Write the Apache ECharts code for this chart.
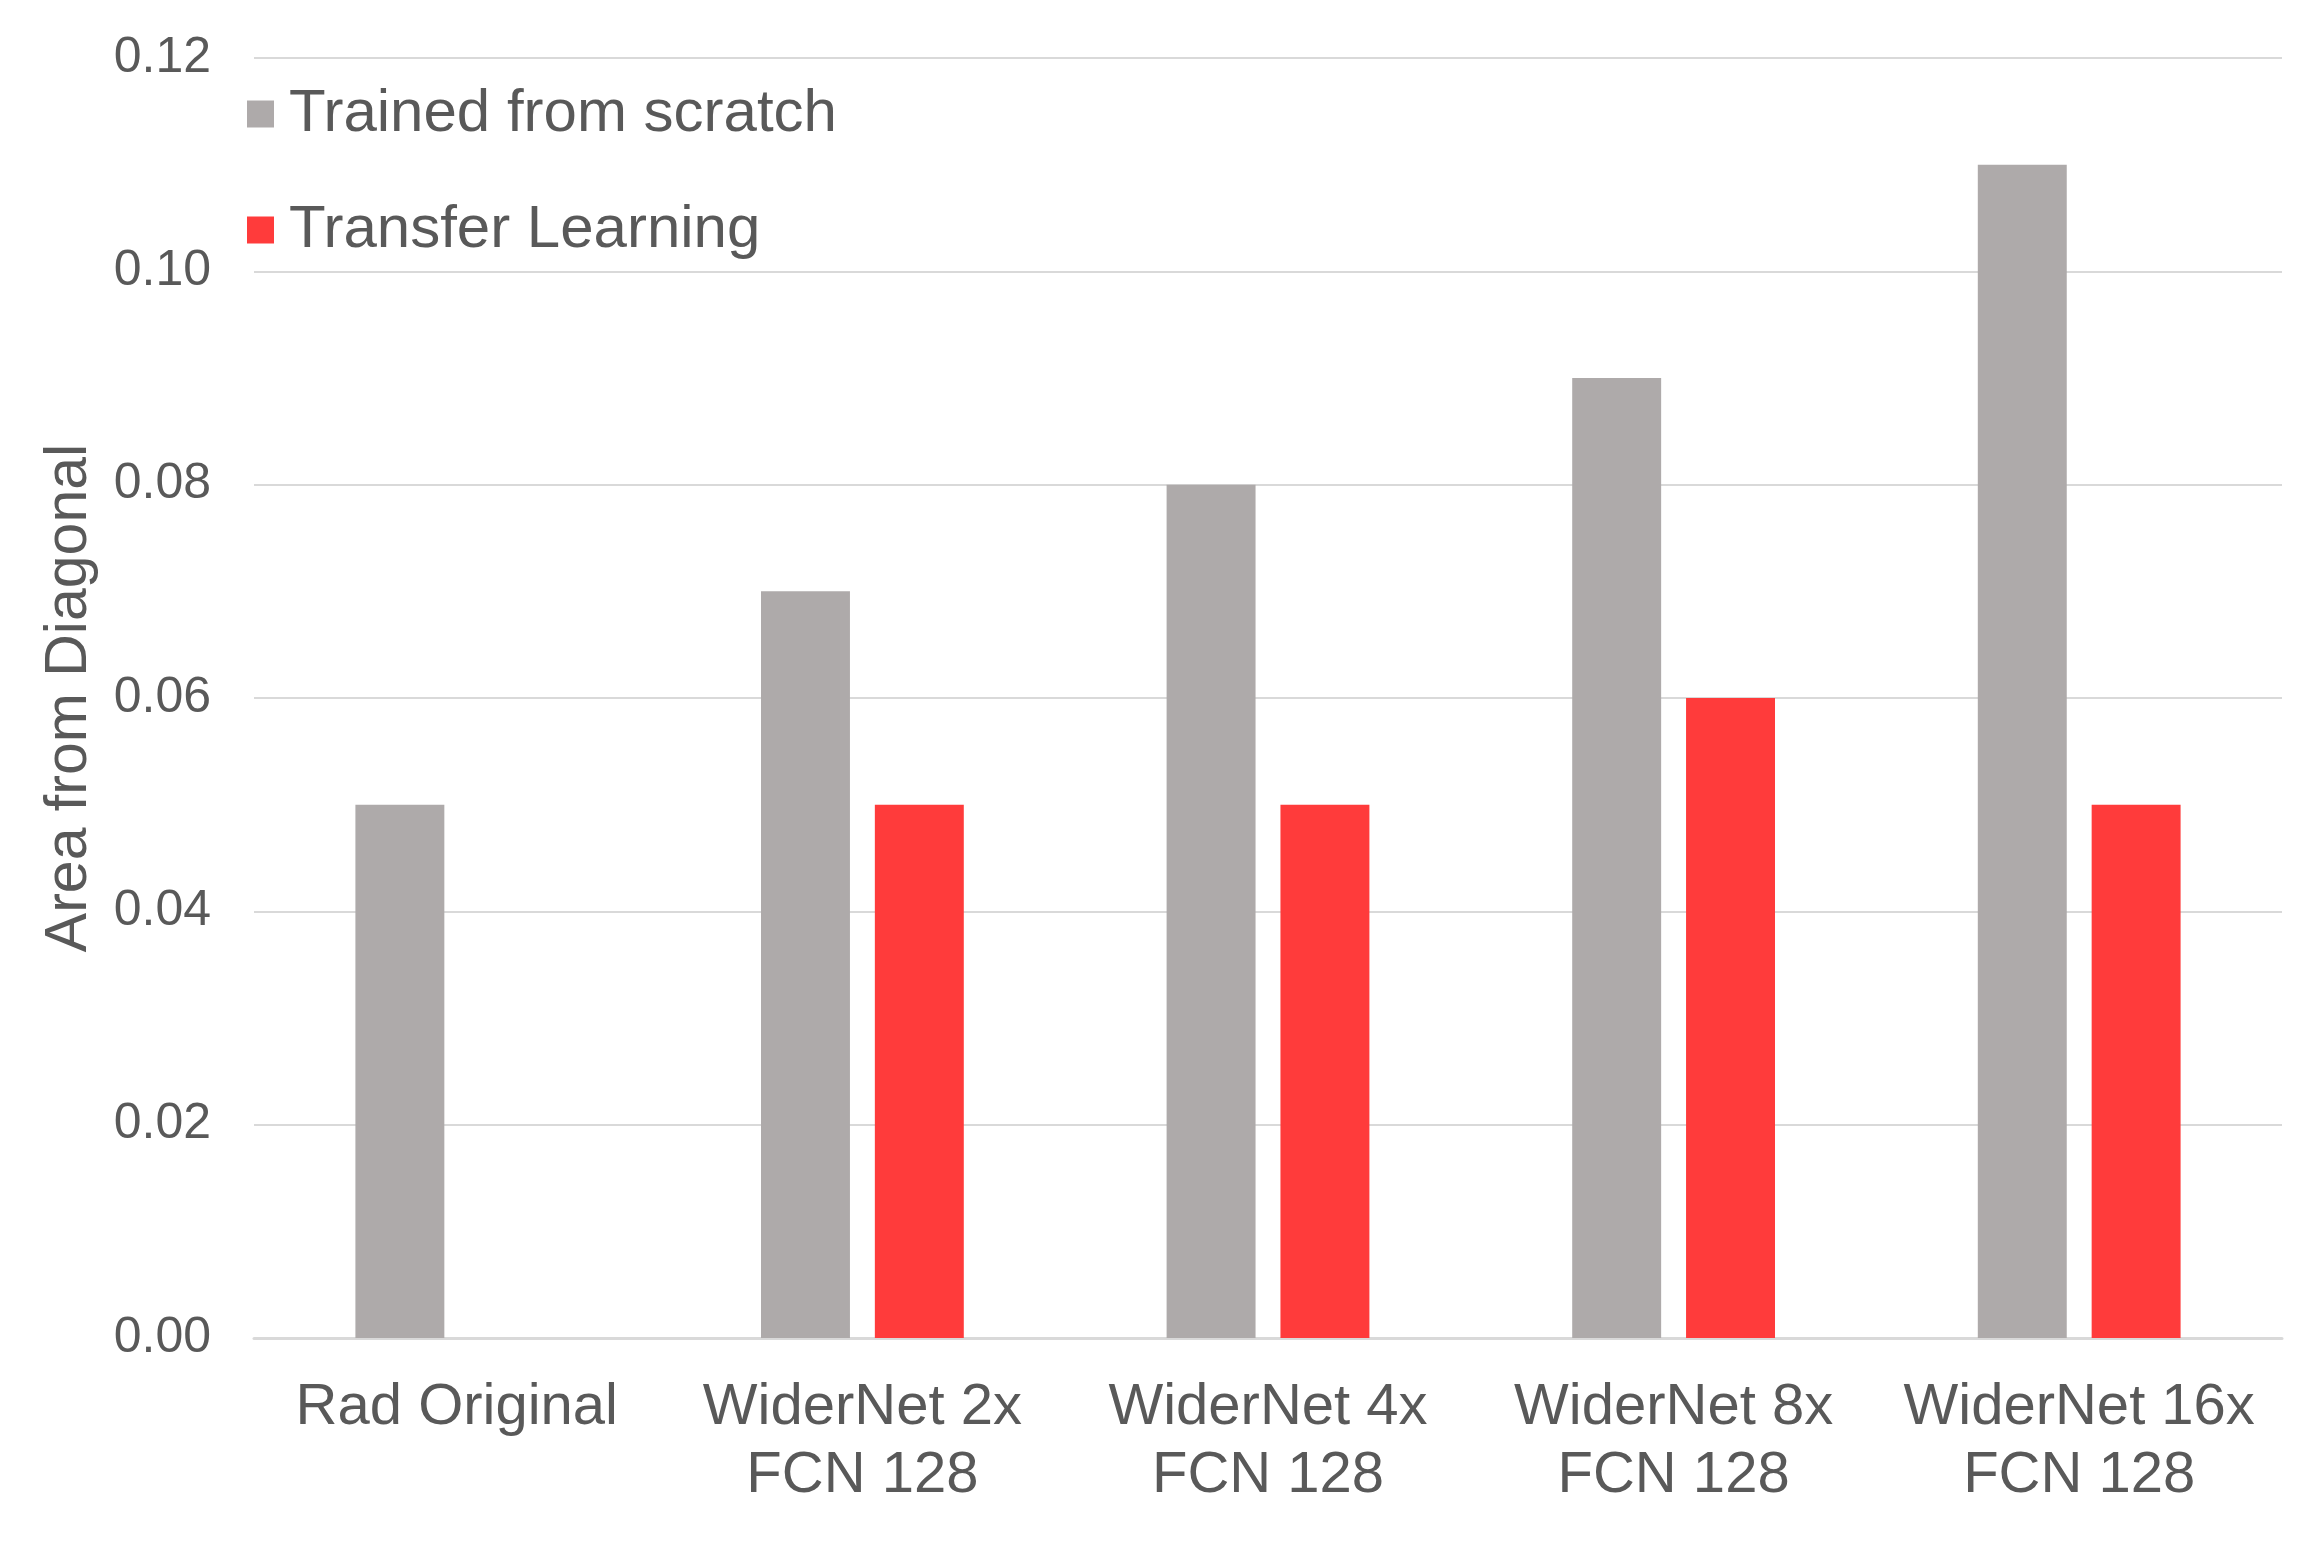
<!DOCTYPE html>
<html>
<head>
<meta charset="utf-8">
<script src="https://cdn.jsdelivr.net/npm/echarts@6/dist/echarts.min.js"></script>
<style>
  html, body { margin: 0; padding: 0; background: #fff; }
  #chart { width: 2316px; height: 1544px; }
</style>
</head>
<body>
<div id="chart"></div>
<script>
// 数据
const categories = [
  "Rad Original",
  "WiderNet 2x\nFCN 128",
  "WiderNet 4x\nFCN 128",
  "WiderNet 8x\nFCN 128",
  "WiderNet 16x\nFCN 128"
];
const scratchValues = [0.05, 0.07, 0.08, 0.09, 0.11];
const transferValues = [null, 0.05, 0.05, 0.06, 0.05];
const seriesNames = ["Trained from scratch", "Transfer Learning"];

const textColor = "#595959";
const gridColor = "#D9D9D9";
const fontFamily = "'Liberation Sans', Arial, sans-serif";

let myChart = echarts.init(document.getElementById("chart"));
myChart.setOption({
  animation: false,
  backgroundColor: "#fff",
  textStyle: { fontFamily: fontFamily },
  legend: {
    orient: "vertical",
    left: 242,
    top: 79,
    itemWidth: 27,
    itemHeight: 27,
    itemGap: 56,
    icon: "rect",
    textStyle: { fontSize: 60, color: textColor, fontFamily: fontFamily, padding: [0, 0, 0, 10] },
    data: seriesNames
  },
  grid: {
    left: 254,
    right: 34,
    top: 58,
    bottom: 206
  },
  xAxis: {
    type: "category",
    data: categories,
    axisLine: { show: true, lineStyle: { color: gridColor, width: 3 } },
    axisTick: { show: false },
    axisLabel: {
      interval: 0,
      margin: 36,
      fontSize: 58,
      lineHeight: 68,
      color: textColor,
      align: "center"
    }
  },
  yAxis: {
    type: "value",
    min: 0,
    max: 0.12,
    interval: 0.02,
    name: "Area from Diagonal",
    nameLocation: "middle",
    nameGap: 155,
    nameTextStyle: { fontSize: 59, color: textColor },
    axisLine: { show: false },
    axisTick: { show: false },
    axisLabel: {
      margin: 43,
      fontSize: 50,
      color: textColor,
      formatter: function (v) { return v.toFixed(2); }
    },
    splitLine: { lineStyle: { color: gridColor, width: 2 } }
  },
  series: [
    {
      name: seriesNames[0],
      type: "bar",
      data: scratchValues,
      itemStyle: { color: "#AEAAAA" },
      barGap: "28%",
      barCategoryGap: "50%"
    },
    {
      name: seriesNames[1],
      type: "bar",
      data: transferValues,
      itemStyle: { color: "#FF3B3B" }
    }
  ]
});
</script>
</body>
</html>
